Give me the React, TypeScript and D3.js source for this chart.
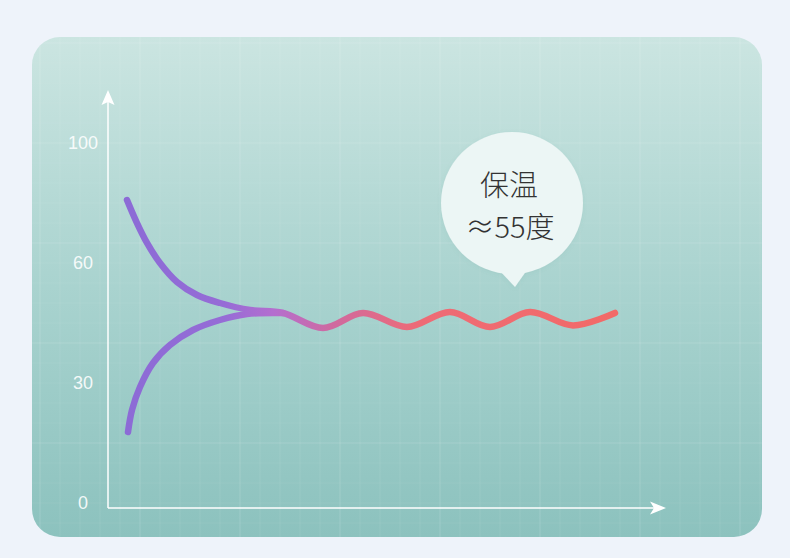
import React from "react";
import * as d3 from "d3";

const W = 790;
const H = 558;

// Y-axis tick labels (evenly spaced on the picture)
const yTicks = [0, 30, 60, 100];

// Upper curve that cools down, then the keep-warm wave (time, temperature)
const upperX = [3.8, 5.8, 7.8, 10.4, 13.8, 17.8, 22.4, 28.4, 35, 43, 51, 59.8, 68.4, 76.4, 84.4, 93, 101.4];
const upperY = [81, 73.3, 66.7, 60, 55.25, 52, 50, 48.25, 47.5, 43.75, 47.5, 44, 47.75, 44, 47.75, 44.4, 47.5];

// Lower curve that heats up to the same level
const lowerX = [4, 4.8, 6.4, 9, 12.4, 17, 22.4, 27.8, 35];
const lowerY = [17.75, 23.25, 29, 35, 39.5, 43.25, 45.75, 47.25, 47.5];

const bubbleLine1 = "保温";
const bubbleLine2 = "≈55度";

export default function App() {
  const x = d3.scaleLinear().domain([0, 110]).range([108, 658]);
  const y = d3.scaleLinear().domain([0, 30, 60, 100]).range([503, 383, 263, 143]);

  const line = d3
    .line<[number, number]>()
    .x((d) => x(d[0]))
    .y((d) => y(d[1]))
    .curve(d3.curveCatmullRom.alpha(0.5));

  const zip = (a: number[], b: number[]) => a.map((v, i) => [v, b[i]] as [number, number]);

  const upperPath = line(zip(upperX, upperY)) || "";
  const lowerPath = line(zip(lowerX, lowerY)) || "";

  const card = { x: 32, y: 37, w: 730, h: 500, r: 28 };
  const ox = 108;
  const oy = 508;

  const vLines = d3.range(card.x + 8, card.x + card.w, 20);
  const hLines = d3.range(card.y + 6, card.y + card.h, 20);

  const bx = 512;
  const by = 203;
  const br = 71;

  return (
    <svg
      width={W}
      height={H}
      style={{ position: "absolute", left: 0, top: 0, background: "#eef3fa" }}
    >
      <defs>
        <linearGradient id="cardGrad" x1="0" y1="0" x2="0" y2="1">
          <stop offset="0" stopColor="#cbe5e1" />
          <stop offset="0.5" stopColor="#a9d3cf" />
          <stop offset="1" stopColor="#8cc2be" />
        </linearGradient>
        <linearGradient
          id="lineGrad"
          gradientUnits="userSpaceOnUse"
          x1={127}
          y1={0}
          x2={615}
          y2={0}
        >
          <stop offset="0" stopColor="#8c6bd6" />
          <stop offset="0.2" stopColor="#966cd6" />
          <stop offset="0.3" stopColor="#b46ecf" />
          <stop offset="0.42" stopColor="#cf6aa0" />
          <stop offset="0.6" stopColor="#ee6b76" />
          <stop offset="1" stopColor="#f26a68" />
        </linearGradient>
        <clipPath id="cardClip">
          <rect x={card.x} y={card.y} width={card.w} height={card.h} rx={card.r} />
        </clipPath>
        <filter id="shadow" x="-30%" y="-30%" width="160%" height="160%">
          <feDropShadow dx="0" dy="1" stdDeviation="2" floodColor="#4a8a86" floodOpacity="0.1" />
        </filter>
      </defs>

      <rect
        x={card.x}
        y={card.y}
        width={card.w}
        height={card.h}
        rx={card.r}
        fill="url(#cardGrad)"
      />

      <g clipPath="url(#cardClip)">
        {vLines.map((vx, i) => (
          <line
            key={"v" + i}
            x1={vx}
            x2={vx}
            y1={card.y}
            y2={card.y + card.h}
            stroke="#ffffff"
            strokeOpacity={i % 5 === 0 ? 0.16 : 0.08}
            strokeWidth={1}
          />
        ))}
        {hLines.map((hy, i) => (
          <line
            key={"h" + i}
            x1={card.x}
            x2={card.x + card.w}
            y1={hy}
            y2={hy}
            stroke="#ffffff"
            strokeOpacity={i % 5 === 0 ? 0.14 : 0.06}
            strokeWidth={1}
          />
        ))}
      </g>

      {/* axes */}
      <line x1={ox} y1={oy} x2={ox} y2={100} stroke="#ffffff" strokeWidth={1.5} />
      <line x1={ox} y1={oy} x2={656} y2={oy} stroke="#ffffff" strokeWidth={1.5} />
      <path
        d={`M${ox},${90} L${ox + 6.5},${105} L${ox},${102} L${ox - 6.5},${105} Z`}
        fill="#ffffff"
      />
      <path
        d={`M${666},${oy} L${650},${oy - 6.5} L${654},${oy} L${650},${oy + 6.5} Z`}
        fill="#ffffff"
      />

      {yTicks.map((t) => (
        <text
          key={t}
          x={83}
          y={y(t)}
          textAnchor="middle"
          dominantBaseline="central"
          fill="#ffffff"
          fillOpacity={0.9}
          fontFamily="'Liberation Sans', Arial, sans-serif"
          fontSize={18}
        >
          {t}
        </text>
      ))}

      {/* curves */}
      <g fill="none" stroke="url(#lineGrad)" strokeWidth={6.5} strokeLinecap="round" strokeLinejoin="round">
        <path d={lowerPath} />
        <path d={upperPath} />
      </g>

      {/* speech bubble */}
      <g filter="url(#shadow)">
        <circle cx={bx} cy={by} r={br} fill="#ecf6f5" />
        <path
          d={`M${bx - 13},${by + br - 4} L${bx + 3},${287} L${bx + 15},${by + br - 4} Z`}
          fill="#ecf6f5"
        />
      </g>
      <text
        x={bx - 3}
        y={196}
        textAnchor="middle"
        fill="#333333"
        fontFamily="'Noto Sans CJK SC', 'Noto Sans', sans-serif"
        fontSize={29}
        fontWeight={300}
      >
        {bubbleLine1}
      </text>
      <text
        x={bx - 2}
        y={238}
        textAnchor="middle"
        fill="#333333"
        fontFamily="'Noto Sans CJK SC', 'Noto Sans', sans-serif"
        fontSize={29}
        fontWeight={300}
      >
        {bubbleLine2}
      </text>
    </svg>
  );
}
